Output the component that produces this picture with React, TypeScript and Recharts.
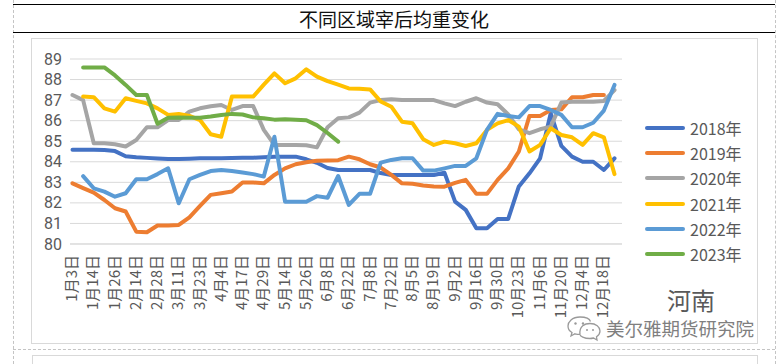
import { LineChart, Line, XAxis, YAxis, CartesianGrid, Legend } from 'recharts'

const categories = [
  '1月3日', '1月8日', '1月14日', '1月20日', '1月26日', '2月7日', '2月14日', '2月21日', '2月28日', '3月4日',
  '3月11日', '3月17日', '3月23日', '3月29日', '4月4日', '4月11日', '4月17日', '4月23日', '4月29日', '5月7日',
  '5月14日', '5月20日', '5月26日', '6月1日', '6月8日', '6月15日', '6月22日', '6月29日', '7月8日', '7月15日',
  '7月22日', '7月29日', '8月5日', '8月12日', '8月19日', '8月26日', '9月2日', '9月9日', '9月16日', '9月23日',
  '9月30日', '10月14日', '10月23日', '10月30日', '11月6日', '11月13日', '11月20日', '11月27日', '12月4日', '12月11日',
  '12月18日', '12月25日',
]

const y2018 = [
  84.58, 84.58, 84.58, 84.57, 84.52, 84.27, 84.22, 84.19, 84.16, 84.14,
  84.14, 84.15, 84.17, 84.17, 84.17, 84.18, 84.2, 84.2, 84.22, 84.24,
  84.25, 84.25, 84.12, 83.95, 83.7, 83.6, 83.6, 83.6, 83.6, 83.45,
  83.36, 83.36, 83.36, 83.36, 83.36, 83.47, 82.06, 81.66, 80.77, 80.77,
  81.22, 81.22, 82.8, 83.44, 84.17, 86.36, 84.77, 84.25, 84.0, 84.0,
  83.6, 84.17,
]
const y2019 = [
  82.95, 82.72, 82.5, 82.14, 81.74, 81.58, 80.6, 80.57, 80.9, 80.9,
  80.93, 81.3, 81.85, 82.39, 82.47, 82.55, 82.99, 82.99, 82.95, 83.36,
  83.68, 83.88, 83.98, 84.05, 84.06, 84.08, 84.25, 84.12, 83.88, 83.72,
  83.36, 82.95, 82.93, 82.85, 82.8, 82.79, 82.97, 83.12, 82.44, 82.44,
  83.12, 83.68, 84.5, 86.23, 86.23, 86.52, 86.55, 87.14, 87.14, 87.25,
  87.25, null,
]
const y2020 = [
  87.25, 87.0, 84.9, 84.9, 84.85, 84.74, 85.06, 85.68, 85.68, 86.03,
  86.03, 86.44, 86.6, 86.7, 86.76, 86.52, 86.71, 86.71, 85.55, 84.82,
  84.82, 84.82, 84.8, 84.7, 85.68, 86.12, 86.16, 86.39, 86.88, 87.0,
  87.04, 87.0, 87.0, 87.0, 87.0, 86.84, 86.71, 86.92, 87.09, 86.88,
  86.8, 86.3, 85.58, 85.39, 85.58, 85.71, 86.88, 86.92, 86.92, 86.92,
  86.96, 87.49,
]
const y2021 = [
  null, 87.17, 87.14, 86.6, 86.44, 87.09, 86.96, 86.84, 86.6, 86.28,
  86.33, 86.23, 86.03, 85.34, 85.22, 87.17, 87.17, 87.17, 87.75, 88.3,
  87.82, 88.06, 88.5, 88.14, 87.92, 87.75, 87.57, 87.55, 87.52, 86.93,
  86.68, 85.95, 85.87, 85.1, 84.82, 84.98, 84.9, 84.77, 84.9, 85.55,
  85.87, 86.03, 85.71, 84.5, 84.82, 85.63, 85.3, 85.19, 84.82, 85.39,
  85.19, 83.4,
]
const y2022 = [
  null, 83.3, 82.71, 82.55, 82.3, 82.47, 83.15, 83.15, 83.4, 83.68,
  81.98, 83.15, 83.36, 83.55, 83.6, 83.55, 83.48, 83.4, 83.28, 85.22,
  82.06, 82.06, 82.06, 82.33, 82.25, 83.31, 81.9, 82.44, 82.44, 83.96,
  84.09, 84.17, 84.17, 83.57, 83.57, 83.68, 83.8, 83.8, 84.17, 85.55,
  86.33, 86.23, 86.16, 86.71, 86.71, 86.52, 86.28, 85.68, 85.68, 85.9,
  86.49, 87.74,
]
const y2023 = [
  null, 88.59, 88.59, 88.59, 88.2, 87.74, 87.25, 87.25, 85.85, 86.14,
  86.16, 86.14, 86.14, 86.2, 86.28, 86.33, 86.3, 86.16, 86.12, 86.05,
  86.07, 86.05, 86.02, 85.78, 85.4, 84.98, null, null, null, null,
  null, null, null, null, null, null, null, null, null, null,
  null, null, null, null, null, null, null, null, null, null,
  null, null,
]

const seriesKeys = ['s2018', 's2019', 's2020', 's2021', 's2022', 's2023']
const seriesNames = ['2018年', '2019年', '2020年', '2021年', '2022年', '2023年']
const seriesColors = ['#4472C4', '#ED7D31', '#A5A5A5', '#FFC000', '#5B9BD5', '#70AD47']
const seriesValues = [y2018, y2019, y2020, y2021, y2022, y2023]
const yTicks = [80, 81, 82, 83, 84, 85, 86, 87, 88, 89]

const FONT = '"Noto Sans CJK SC", "Noto Sans", sans-serif'
const NUM_FONT = 'Roboto, "Liberation Sans", sans-serif'
const TEXT = '#595959'

const data = categories.map((date, i) => {
  const row: Record<string, string | number | null> = { date }
  seriesKeys.forEach((k, j) => { row[k] = seriesValues[j][i] })
  return row
})

function YTick({ y, payload }: any) {
  return (
    <text x={62} y={y} textAnchor="end" dominantBaseline="central" fill={TEXT} fontSize={16} fontFamily={NUM_FONT}>
      {payload.value}
    </text>
  )
}

function XTick({ x, payload }: any) {
  return (
    <text transform={`translate(${x - 2},255) rotate(-90)`} textAnchor="end" dominantBaseline="central"
      fill={TEXT} fontSize={15} fontFamily={FONT}>
      {payload.value}
    </text>
  )
}

function LegendBox() {
  return (
    <div style={{ fontFamily: FONT }}>
      {seriesNames.map((n, i) => (
        <div key={n} style={{ display: 'flex', alignItems: 'center', height: 25.3 }}>
          <span style={{ width: 40, height: 4, borderRadius: 2, background: seriesColors[i], marginRight: 5 }} />
          <span style={{ fontSize: 16, color: TEXT, lineHeight: '16px' }}>{n}</span>
        </div>
      ))}
    </div>
  )
}

export default function App() {
  return (
    <div style={{ position: 'absolute', left: 0, top: 0, width: 783, height: 364, background: '#fff', overflow: 'hidden', fontFamily: FONT }}>
      <div style={{ position: 'absolute', left: 13, top: 0, height: 364, borderLeft: '1px dashed #c4c4c4' }} />
      <div style={{ position: 'absolute', left: 775, top: 0, height: 364, borderLeft: '1px dashed #c4c4c4' }} />
      <div style={{ position: 'absolute', left: 13, top: 4, width: 762, borderTop: '1px solid #000' }} />
      <div style={{ position: 'absolute', left: 13, top: 32, width: 762, borderTop: '1px solid #000' }} />
      <div style={{ position: 'absolute', left: 13, top: 5, width: 762, height: 27, lineHeight: '27px', textAlign: 'center', fontSize: 19, color: '#111' }}>
        不同区域宰后均重变化
      </div>
      <div style={{ position: 'absolute', left: 31, top: 38, width: 725, height: 304, border: '1px solid #d9d9d9' }} />
      <div style={{ position: 'absolute', left: 13, top: 349, width: 762, borderTop: '1px dashed #c4c4c4' }} />
      <div style={{ position: 'absolute', left: 32, top: 355, width: 724, height: 20, border: '1px solid #d9d9d9' }} />

      <div style={{ position: 'absolute', left: 0, top: 0 }}>
        <LineChart width={783} height={364} data={data} margin={{ top: 59, right: 161, bottom: 50, left: 30 }}>
          <CartesianGrid vertical={false} stroke="#d9d9d9" strokeWidth={1} />
          <XAxis dataKey="date" interval={1} height={70} padding={{ left: 2.5, right: 7.5 }}
            tick={<XTick />} tickLine={false} axisLine={{ stroke: '#d9d9d9' }} />
          <YAxis domain={[80, 89]} ticks={yTicks} interval={0} width={40} tick={<YTick />} tickLine={false} axisLine={false} />
          <Legend layout="horizontal" align="center" verticalAlign="middle" wrapperStyle={{ left: 645, top: 115, width: 110 }}
            content={() => <LegendBox />} />
          {seriesKeys.map((k, i) => (
            <Line key={k} type="linear" dataKey={k} name={seriesNames[i]} stroke={seriesColors[i]} strokeWidth={4}
              strokeLinecap="round" strokeLinejoin="round" dot={false} activeDot={false} isAnimationActive={false} />
          ))}
        </LineChart>
      </div>

      <div style={{ position: 'absolute', left: 667, top: 284, fontSize: 24, color: TEXT, lineHeight: '32px' }}>河南</div>
      <svg style={{ position: 'absolute', left: 566, top: 314 }} width={38} height={28}>
        <g fill="none" stroke="#9a9a9a" strokeWidth={1.3}>
          <path d="M14 3 C6 3 2 8 2 12 C2 15 4 17.5 6 18.5 L5 22 L9 19.8 C10.5 20.2 12 20.4 14 20.4" />
          <path d="M14 20.4 C13 12 19 9.5 24 9.5 C30 9.5 34 13 34 17 C34 19.5 32.5 21.5 30.5 22.8 L31 26 L27.5 24 C26 24.4 25 24.5 24 24.5 C18 24.5 14 22 14 20.4" />
          <path d="M24.5 7.5 C23.5 4.5 19 3 14 3" />
        </g>
        <g fill="#9a9a9a">
          <circle cx={9.5} cy={9.5} r={1.2} />
          <circle cx={17} cy={9.5} r={1.2} />
          <circle cx={21} cy={16} r={1} />
          <circle cx={27} cy={16} r={1} />
        </g>
      </svg>
      <div style={{ position: 'absolute', left: 606, top: 315, fontSize: 18.5, color: '#7f7f7f', lineHeight: '26px', whiteSpace: 'nowrap' }}>
        美尔雅期货研究院
      </div>
    </div>
  )
}
